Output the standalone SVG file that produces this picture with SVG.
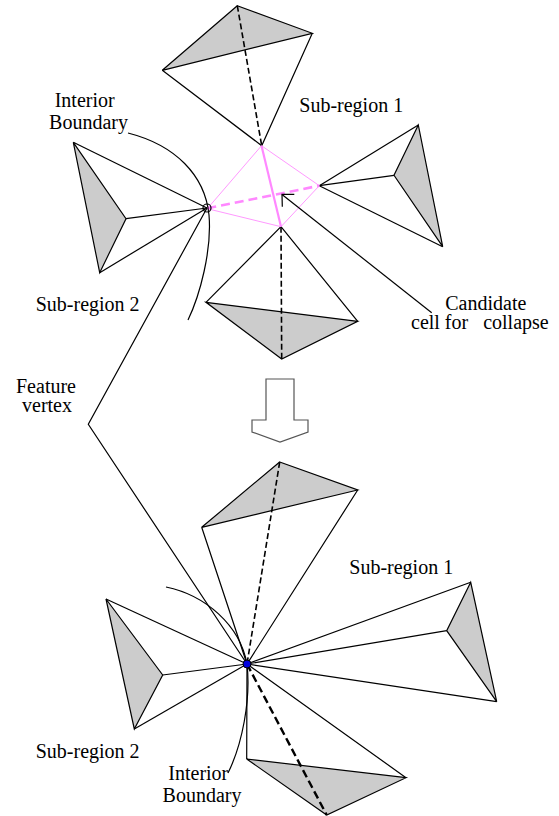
<svg xmlns="http://www.w3.org/2000/svg" width="559" height="816" viewBox="0 0 559 816">
<style>
.e{fill:none;stroke:#000;stroke-width:1.2;stroke-linejoin:miter}
.f{fill:#cccccc;stroke:#000;stroke-width:1.2;stroke-linejoin:miter}
.d{fill:none;stroke:#000;stroke-width:1.6;stroke-dasharray:6,3}
.dd{fill:none;stroke:#000;stroke-width:2.4;stroke-dasharray:8,4}
.pt{fill:none;stroke:#ff99ff;stroke-width:1}
.pk{fill:none;stroke:#ff88ff;stroke-width:2.2}
.pd{fill:none;stroke:#ff88ff;stroke-width:2.6;stroke-dasharray:9,5}
text{font-family:"Liberation Serif","Times New Roman",serif;font-size:20px;fill:#000}
</style>
<rect width="559" height="816" fill="#fff"/>

<!-- ===== Upper (before collapse) ===== -->
<g id="top-tetra-upper">
  <polygon class="f" points="237.3,5.7 312.3,33.3 162.3,70.3"/>
  <polyline class="e" points="162.3,70.3 261.7,145.7 312.3,33.3"/>
  <line class="d" x1="237.3" y1="5.7" x2="261.7" y2="145.7"/>
</g>
<g id="right-tetra-upper">
  <polygon class="f" points="418.3,125 394,175.3 442.7,246.7"/>
  <line class="e" x1="319.3" y1="185.7" x2="418.3" y2="125"/>
  <line class="e" x1="319.3" y1="185.7" x2="394" y2="175.3"/>
  <line class="e" x1="319.3" y1="185.7" x2="442.7" y2="246.7"/>
</g>
<g id="left-tetra-upper">
  <polygon class="f" points="73.3,142.3 126,218.7 99.7,272.7"/>
  <line class="e" x1="207" y1="208" x2="73.3" y2="142.3"/>
  <line class="e" x1="207" y1="208" x2="126" y2="218.7"/>
  <line class="e" x1="207" y1="208" x2="99.7" y2="272.7"/>
</g>
<g id="bottom-tetra-upper">
  <polygon class="f" points="206,302.3 357.7,321.3 281.7,359"/>
  <polyline class="e" points="206,302.3 281,226.7 357.7,321.3"/>
  <line class="d" x1="281" y1="226.7" x2="281.7" y2="359"/>
</g>
<g id="candidate-cell">
  <polygon class="pt" points="261.5,145.7 319.3,185.7 281,226.7 207.3,208.7"/>
  <line class="pk" x1="261.5" y1="145.7" x2="281" y2="226.7"/>
  <line class="pd" x1="207.3" y1="208.3" x2="319.3" y2="185.7"/>
</g>
<g id="feature-vertex-upper">
  <circle cx="207" cy="208" r="4" fill="none" stroke="#000" stroke-width="1.2"/>
</g>

<!-- ===== Lower (after collapse) ===== -->
<g id="top-tetra-lower">
  <polygon class="f" points="279.7,462 357.7,490 201.7,527.3"/>
  <polyline class="e" points="201.7,527.3 247,664 357.7,490"/>
  <line class="d" x1="279.7" y1="462" x2="247" y2="664"/>
</g>
<g id="right-tetra-lower">
  <polygon class="f" points="470.7,582.3 446.7,630.7 496.7,701.7"/>
  <line class="e" x1="247" y1="664" x2="470.7" y2="582.3"/>
  <line class="e" x1="247" y1="664" x2="446.7" y2="630.7"/>
  <line class="e" x1="247" y1="664" x2="496.7" y2="701.7"/>
</g>
<g id="left-tetra-lower">
  <polygon class="f" points="106,599 162.7,675 134.3,729"/>
  <line class="e" x1="247" y1="664" x2="106" y2="599"/>
  <line class="e" x1="247" y1="664" x2="162.7" y2="675"/>
  <line class="e" x1="247" y1="664" x2="134.3" y2="729"/>
</g>
<g id="bottom-tetra-lower">
  <polygon class="f" points="246.7,759 406,777.7 326.7,815"/>
  <polyline class="e" points="246.7,759 247,664 406,777.7"/>
  <line class="dd" x1="247" y1="664" x2="326.7" y2="815"/>
</g>

<!-- ===== Connectors ===== -->
<g id="connectors">
  <path class="e" d="M128,133 C175,145 205,175 209,215 C212,250 200,295 188,320"/>
  <path class="e" d="M166,587 C205,595 240,625 247,664 C251,700 242,745 228,773"/>
  <polyline class="e" points="207,208 88.3,424.3 247,664"/>
  <line class="e" x1="431.7" y1="312.7" x2="282" y2="194.5"/>
  <polyline class="e" points="294.3,194.3 282,194.3 282.3,206.7"/>
  <polygon points="266,379 294,379 294,420 308,420 308,432 280,442 252,432 252,420 266,420" fill="#fff" stroke="#555" stroke-width="1.2"/>
</g>
<g id="feature-vertex-lower">
  <circle cx="247" cy="664" r="4" fill="#0000dd" stroke="#000" stroke-width="1"/>
</g>

<!-- ===== Labels ===== -->
<g id="labels">
  <text x="84.7" y="106.7" text-anchor="middle">Interior</text>
  <text x="88.5" y="129.3" text-anchor="middle">Boundary</text>
  <text x="299.3" y="111.7">Sub-region 1</text>
  <text x="35.7" y="310.7">Sub-region 2</text>
  <text x="485.8" y="310" text-anchor="middle">Candidate</text>
  <text x="411" y="329.3" xml:space="preserve">cell for   collapse</text>
  <text x="46" y="393.3" text-anchor="middle">Feature</text>
  <text x="47" y="411.7" text-anchor="middle">vertex</text>
  <text x="349.3" y="574">Sub-region 1</text>
  <text x="35.7" y="758">Sub-region 2</text>
  <text x="198.3" y="780" text-anchor="middle">Interior</text>
  <text x="202" y="801.7" text-anchor="middle">Boundary</text>
</g>
</svg>
